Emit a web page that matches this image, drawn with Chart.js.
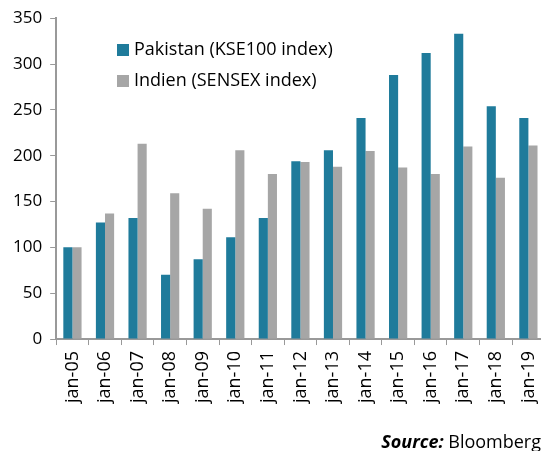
<!DOCTYPE html>
<html>
<head>
<meta charset="utf-8">
<script src="https://cdn.jsdelivr.net/npm/chart.js@4"></script>
<style>
  html, body { margin: 0; padding: 0; background: #fff; overflow: hidden; }
  #wrap { position: relative; width: 556px; height: 451px; }
  #source { position: absolute; right: 15px; top: 429px; font: 18px 'Open Sans', sans-serif; color: #000; white-space: nowrap; }
</style>
</head>
<body>
<div id="wrap">
  <canvas id="chart" width="556" height="451"></canvas>
  <div id="source"><b><i>Source:</i></b> Bloomberg</div>
</div>
<script>
var labels = ['jan-05','jan-06','jan-07','jan-08','jan-09','jan-10','jan-11','jan-12','jan-13','jan-14','jan-15','jan-16','jan-17','jan-18','jan-19'];
var pakistan = [100, 127, 132, 70, 87, 111, 132, 194, 206, 241, 288, 312, 333, 254, 241];
var indien = [100, 137, 213, 159, 142, 206, 180, 193, 188, 205, 187, 180, 210, 176, 211];
var yTicks = [0, 50, 100, 150, 200, 250, 300, 350];

var FONT = "'Open Sans', sans-serif";

// legend drawn inside the plot, like the original
var legendInside = {
  id: 'legendInside',
  afterDraw: function(chart) {
    var ctx = chart.ctx;
    ctx.save();
    ctx.font = '18px ' + FONT;
    ctx.textBaseline = 'middle';
    chart.data.datasets.forEach(function(ds, i) {
      var y = 50 + i * 31;
      ctx.fillStyle = ds.backgroundColor;
      ctx.fillRect(117, y - 6, 12, 12);
      ctx.fillStyle = '#000';
      ctx.fillText(ds.label, 134, y);
    });
    ctx.restore();
  }
};

var ctx = document.getElementById('chart');
new Chart(ctx, {
  type: 'bar',
  data: {
    labels: labels,
    datasets: [
      { label: 'Pakistan (KSE100 index)', data: pakistan, backgroundColor: '#1F7B9B' },
      { label: 'Indien (SENSEX index)', data: indien, backgroundColor: '#A6A6A6' }
    ]
  },
  options: {
    responsive: false,
    animation: false,
    layout: { padding: { top: 10, left: 5, right: 0, bottom: 42 } },
    categoryPercentage: 0.56,
    barPercentage: 1,
    plugins: { legend: { display: false }, tooltip: { enabled: false } },
    scales: {
      x: {
        grid: { display: true, drawOnChartArea: false, tickLength: 6, color: '#999', offset: true },
        border: { color: '#999', width: 2 },
        ticks: { minRotation: 90, maxRotation: 90, color: '#000', font: { family: FONT, size: 18 }, padding: 6, autoSkip: false }
      },
      y: {
        min: 0, max: 350,
        afterBuildTicks: function(axis) { axis.ticks = yTicks.map(function(v) { return { value: v }; }); },
        grid: { display: true, drawOnChartArea: false, tickLength: 6, color: '#999' },
        border: { color: '#999', width: 2 },
        ticks: { color: '#000', font: { family: FONT, size: 17 }, padding: 8 }
      }
    }
  },
  plugins: [legendInside]
});
</script>
</body>
</html>
